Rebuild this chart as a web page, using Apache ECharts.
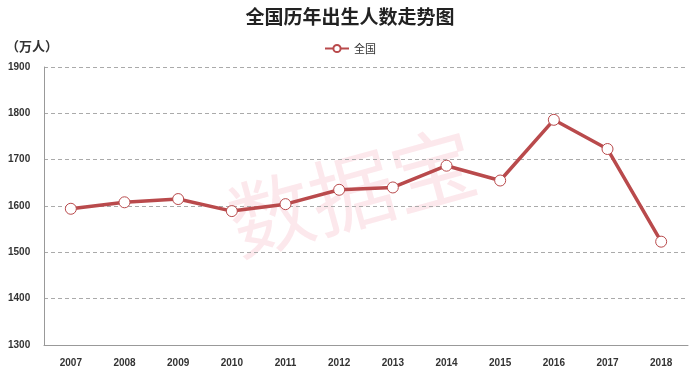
<!DOCTYPE html>
<html>
<head>
<meta charset="utf-8">
<script src="https://cdn.jsdelivr.net/npm/echarts@6/dist/echarts.min.js"></script>
<style>
  html, body { margin: 0; padding: 0; background: #fff; }
  #main { width: 700px; height: 377px; }
</style>
</head>
<body>
<div id="main"></div>
<script>
// years and births (万人)
let years = ['2007', '2008', '2009', '2010', '2011', '2012', '2013', '2014', '2015', '2016', '2017', '2018'];
let births = [1594, 1608, 1615, 1589, 1604, 1635, 1640, 1687, 1655, 1786, 1723, 1523];
let yTicks = [1300, 1900, 100];

let myChart = echarts.init(document.getElementById('main'));

let option = {
    backgroundColor: '#fff',
    title: {
        text: '全国历年出生人数走势图',
        left: 'center',
        top: 2,
        textStyle: {fontSize: 19, fontWeight: 'bold', color: '#222', fontFamily: 'Noto Sans CJK SC'}
    },
    legend: {
        data: ['全国'],
        top: 38,
        left: 'center',
        itemWidth: 24,
        itemHeight: 9,
        itemGap: 4,
        textStyle: {fontSize: 11, color: '#333', fontFamily: 'Noto Sans CJK SC'}
    },
    graphic: [
        {
            type: 'text', left: 6, top: 40,
            style: {text: '（万人）', fill: '#333', font: 'bold 13px "Noto Sans CJK SC"'}
        },
        {
            type: 'text', x: 352, y: 192, rotation: 0.27, z: -1,
            style: {
                text: '数据宝', fill: 'rgba(235,120,140,0.17)',
                font: '84px "Noto Sans CJK SC"', align: 'center', verticalAlign: 'middle'
            }
        }
    ],
    grid: {left: 44, right: 12, top: 67, bottom: 32},
    xAxis: {
        type: 'category',
        data: years,
        boundaryGap: true,
        axisLine: {lineStyle: {color: '#999', width: 1}},
        axisTick: {show: false},
        axisLabel: {fontSize: 10, fontWeight: 'bold', color: '#333', margin: 13}
    },
    yAxis: {
        type: 'value',
        min: yTicks[0],
        max: yTicks[1],
        interval: yTicks[2],
        axisLine: {show: true, lineStyle: {color: '#999'}},
        axisTick: {show: false},
        axisLabel: {
            fontSize: 10, fontWeight: 'bold', color: '#333', margin: 36, align: 'left',
            formatter: function (v) { return String(v); }
        },
        splitLine: {lineStyle: {color: '#aaa', type: [4, 3]}}
    },
    series: [
        {
            name: '全国',
            type: 'line',
            data: births,
            symbol: 'circle',
            symbolSize: 11,
            lineStyle: {color: '#b94a4c', width: 3.5},
            itemStyle: {color: '#fff', borderColor: '#b94a4c', borderWidth: 1},
            emphasis: {disabled: true}
        }
    ]
};

myChart.setOption(option);
</script>
</body>
</html>
